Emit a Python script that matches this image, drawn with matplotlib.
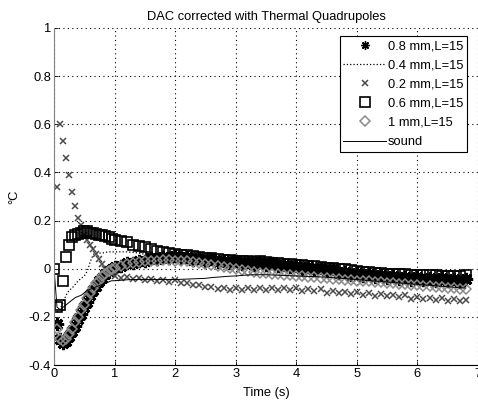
import numpy as np
import matplotlib
matplotlib.use("Agg")
import matplotlib.pyplot as plt

plt.rcParams['font.family'] = ['Liberation Sans', 'DejaVu Sans']

# sample times: 0.05 s steps up to 0.95 s, then 0.1 s steps to 6.8 s
t_early = np.round(np.arange(20) * 0.05, 2)
t_late = np.round(1.0 + np.arange(59) * 0.1, 1)
time = np.concatenate([t_early, t_late])

nan = np.nan

# 0.8 mm, L=15 (asterisks)
y_08 = [nan, -0.23, -0.29, -0.31, -0.30, -0.28, -0.26, -0.24, -0.21, -0.19,
        -0.16, -0.14, -0.11, -0.09, -0.07, -0.05, -0.04, -0.02, -0.01, 0.00,
        0.008, 0.010, 0.024, 0.022, 0.034, 0.032, 0.045, 0.040, 0.050, 0.046,
        0.054, 0.044, 0.050, 0.038, 0.044, 0.032, 0.040, 0.028, 0.034, 0.022,
        0.030, 0.018, 0.026, 0.016, 0.027, 0.015, 0.022, 0.010, 0.017, 0.006,
        0.012, 0.000, 0.008, -0.004, 0.002, -0.010, 0.000, -0.017, -0.012, -0.025,
        -0.018, -0.030, -0.024, -0.035, -0.027, -0.040, -0.030, -0.042, -0.034, -0.046,
        -0.036, -0.048, -0.038, -0.050, -0.040, -0.052, -0.042, -0.054, -0.044]

# 0.4 mm, L=15 (dotted line)
y_04 = [nan, -0.18, -0.17, -0.14, -0.11, -0.09, -0.08, -0.065, -0.05, -0.04,
        -0.03, -0.01, 0.03, 0.06, 0.065, 0.065, 0.065, 0.068, 0.07, 0.07,
        0.070, 0.070, 0.070, 0.068, 0.065, 0.060, 0.058, 0.055, 0.053, 0.050,
        0.050, 0.047, 0.045, 0.042, 0.040, 0.037, 0.035, 0.032, 0.030, 0.028,
        0.026, 0.024, 0.023, 0.022, 0.021, 0.020, 0.018, 0.016, 0.014, 0.012,
        0.010, 0.008, 0.006, 0.004, 0.002, 0.000, -0.003, -0.006, -0.010, -0.013,
        -0.016, -0.020, -0.022, -0.025, -0.027, -0.030, -0.031, -0.033, -0.035, -0.036,
        -0.037, -0.038, -0.040, -0.040, -0.041, -0.042, -0.043, -0.044, -0.045]

# 0.2 mm, L=15 (crosses)
y_02 = [nan, 0.34, 0.60, 0.53, 0.46, 0.39, 0.32, 0.26, 0.21, 0.18,
        0.14, 0.12, 0.10, 0.08, 0.06, 0.04, 0.02, 0.00, -0.01, -0.02,
        -0.030, -0.038, -0.036, -0.044, -0.040, -0.048, -0.044, -0.052, -0.046, -0.054,
        -0.048, -0.058, -0.058, -0.068, -0.066, -0.078, -0.076, -0.086, -0.080, -0.090,
        -0.082, -0.090, -0.082, -0.090, -0.082, -0.090, -0.082, -0.090, -0.082, -0.090,
        -0.082, -0.094, -0.086, -0.094, -0.086, -0.099, -0.091, -0.099, -0.096, -0.104,
        -0.096, -0.109, -0.101, -0.114, -0.106, -0.114, -0.111, -0.119, -0.111, -0.124,
        -0.116, -0.124, -0.121, -0.129, -0.121, -0.134, -0.126, -0.134, -0.128]

# 0.6 mm, L=15 (squares)
y_06 = [0.00, -0.16, -0.15, -0.05, 0.05, 0.10, 0.13, 0.14, 0.145, 0.15,
        0.155, 0.155, 0.15, 0.15, 0.145, 0.14, 0.14, 0.135, 0.13, 0.125,
        0.120, 0.115, 0.110, 0.100, 0.095, 0.090, 0.080, 0.075, 0.070, 0.065,
        0.060, 0.058, 0.055, 0.052, 0.050, 0.046, 0.044, 0.040, 0.038, 0.035,
        0.033, 0.030, 0.030, 0.028, 0.030, 0.028, 0.025, 0.022, 0.020, 0.018,
        0.016, 0.014, 0.012, 0.010, 0.008, 0.005, 0.005, 0.000, -0.002, -0.006,
        -0.008, -0.012, -0.014, -0.016, -0.018, -0.020, -0.020, -0.022, -0.024, -0.025,
        -0.026, -0.027, -0.028, -0.028, -0.030, -0.030, -0.030, -0.030, -0.025]

# 1 mm, L=15 (diamonds)
y_1 = [nan, -0.25, -0.29, -0.30, -0.29, -0.27, -0.25, -0.22, -0.20, -0.17,
       -0.15, -0.12, -0.10, -0.08, -0.06, -0.05, -0.03, -0.02, -0.01, 0.00,
       0.005, 0.012, 0.018, 0.024, 0.028, 0.030, 0.033, 0.034, 0.035, 0.035,
       0.034, 0.032, 0.030, 0.027, 0.024, 0.020, 0.015, 0.010, 0.006, 0.002,
       -0.002, -0.006, -0.010, -0.013, -0.016, -0.019, -0.021, -0.023, -0.025, -0.027,
       -0.029, -0.031, -0.033, -0.035, -0.037, -0.039, -0.041, -0.043, -0.045, -0.047,
       -0.049, -0.051, -0.053, -0.055, -0.057, -0.059, -0.061, -0.063, -0.065, -0.067,
       -0.069, -0.071, -0.073, -0.075, -0.077, -0.079, -0.081, -0.083, -0.085]

# sound (solid line)
y_sound = [0.00, -0.16, -0.17, -0.16, -0.15, -0.14, -0.13, -0.12, -0.115, -0.11,
           -0.10, -0.09, -0.085, -0.08, -0.075, -0.07, -0.065, -0.06, -0.055, -0.05,
           -0.050, -0.048, -0.046, -0.045, -0.045, -0.045, -0.045, -0.045, -0.045, -0.045,
           -0.045, -0.044, -0.043, -0.042, -0.041, -0.040, -0.037, -0.035, -0.033, -0.031,
           -0.030, -0.028, -0.026, -0.025, -0.025, -0.025, -0.026, -0.027, -0.028, -0.029,
           -0.030, -0.031, -0.032, -0.033, -0.034, -0.035, -0.037, -0.039, -0.041, -0.043,
           -0.045, -0.047, -0.049, -0.051, -0.053, -0.055, -0.057, -0.059, -0.061, -0.063,
           -0.065, -0.067, -0.069, -0.071, -0.073, -0.075, -0.077, -0.079, -0.080]

labels = ['0.8 mm,L=15', '0.4 mm,L=15', '0.2 mm,L=15',
          '0.6 mm,L=15', '1 mm,L=15', 'sound']

fs = 9.3

fig = plt.figure(figsize=(4.78, 4.0), dpi=100)
ax = fig.add_axes([54 / 478, 35 / 400, 424 / 478, 337 / 400])

ax.plot(time, y_08, linestyle='none', marker=(8, 2, 0), markersize=9.5,
        markeredgewidth=2.2, color='black', label=labels[0])
ax.plot(time, y_04, linestyle=':', linewidth=0.9, color='black', label=labels[1])
ax.plot(time, y_02, linestyle='none', marker='x', markersize=5,
        markeredgewidth=1.1, color='#4a4a4a', label=labels[2])
ax.plot(time, y_06, linestyle='none', marker='s', markersize=7.5,
        markerfacecolor='none', markeredgewidth=1.2, color='black', label=labels[3])
ax.plot(time, y_1, linestyle='none', marker='D', markersize=5,
        markerfacecolor='none', markeredgewidth=1.1, color='#8a8a8a', label=labels[4])
ax.plot(time, y_sound, linestyle='-', linewidth=0.7, color='black', label=labels[5])

ax.set_xlim(0, 7)
ax.set_ylim(-0.4, 1.0)
ax.set_xticks(range(8))
ax.set_yticks([-0.4, -0.2, 0, 0.2, 0.4, 0.6, 0.8, 1.0])
ax.set_yticklabels(['-0.4', '-0.2', '0', '0.2', '0.4', '0.6', '0.8', '1'])
ax.tick_params(direction='in', labelsize=fs, length=3, width=0.6, pad=2)
ax.grid(True, linestyle=(0, (1, 3)), color='black', linewidth=0.8)
ax.set_axisbelow(True)

ax.spines['top'].set_visible(False)
ax.spines['right'].set_visible(False)
ax.spines['left'].set_color('#808080')
ax.spines['bottom'].set_color('black')

ax.set_title('DAC corrected with Thermal Quadrupoles', fontsize=fs, pad=6)
ax.set_xlabel('Time (s)', fontsize=fs, labelpad=5)
ax.set_ylabel('°C', fontsize=fs, labelpad=6)

leg = ax.legend(loc='upper right', bbox_to_anchor=(0.975, 0.975), fontsize=fs,
                frameon=True, fancybox=False, framealpha=1, edgecolor='black',
                handlelength=3.3, handletextpad=0.15, labelspacing=0.55,
                borderpad=0.3, borderaxespad=0, markerscale=1)
leg.get_frame().set_linewidth(0.8)
# smaller, thinner symbols in the legend box
handles = leg.legend_handles
handles[0].set_markersize(6)
handles[0].set_markeredgewidth(1.0)
handles[2].set_markersize(4.5)
handles[3].set_markersize(6.5)
handles[4].set_markersize(5)

fig.savefig('out.png', dpi=100)
